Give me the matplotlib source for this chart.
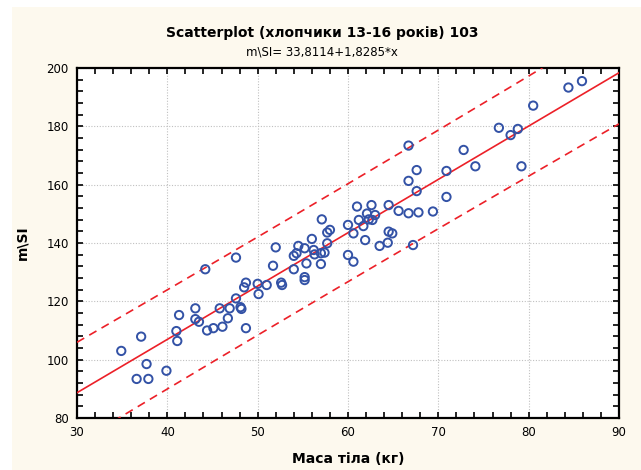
import numpy as np
import matplotlib
matplotlib.use("Agg")
import matplotlib.pyplot as plt
from matplotlib.patches import Rectangle
from matplotlib.ticker import MultipleLocator

plt.rcParams['font.family'] = ['DejaVu Sans']

# Body mass (kg) and m\SI for boys aged 13-16
mass = [34.9, 36.6, 37.9, 37.1, 37.7, 39.9, 41.1, 41.0, 41.3, 43.1,
        43.1, 43.5, 44.4, 45.1, 45.8, 46.1, 46.7, 46.9, 47.6, 48.1,
        48.2, 48.7, 48.5, 48.7, 50.0, 50.1, 51.0, 44.2, 47.6, 52.6,
        52.7, 51.7, 52.0, 54.0, 54.0, 54.3, 54.5, 55.2, 55.2, 55.2,
        55.4, 56.0, 56.2, 56.3, 57.0, 57.0, 57.4, 57.1, 57.7, 57.7,
        58.0, 60.0, 60.6, 60.0, 60.6, 61.0, 61.9, 61.2, 61.7, 62.1,
        62.6, 62.7, 63.0, 63.5, 64.5, 64.4, 64.5, 64.9, 65.6, 66.7,
        67.8, 67.2, 66.7, 67.6, 66.7, 67.6, 69.4, 70.9, 70.9, 72.8,
        74.1, 79.2, 76.7, 78.0, 78.8, 80.5, 84.4, 85.9, 62.3]
msi = [103.0, 93.4, 93.4, 107.9, 98.5, 96.2, 106.4, 109.8, 115.3, 117.6,
       113.9, 113.0, 110.0, 110.8, 117.6, 111.3, 114.2, 117.6, 121.0, 118.0,
       117.4, 110.8, 124.8, 126.4, 126.0, 122.5, 125.6, 131.0, 135.0, 126.4,
       125.6, 132.2, 138.5, 131.0, 135.6, 136.5, 139.0, 138.2, 128.3, 127.3,
       133.0, 141.4, 137.6, 136.1, 136.5, 132.8, 136.7, 148.1, 139.9, 143.6,
       144.5, 146.2, 143.3, 135.9, 133.6, 152.5, 141.0, 147.9, 145.8, 150.1,
       153.0, 147.9, 149.6, 139.0, 153.0, 140.1, 143.9, 143.3, 151.0, 150.2,
       150.5, 139.3, 173.4, 165.0, 161.3, 157.8, 150.8, 164.7, 155.8, 171.9,
       166.3, 166.3, 179.5, 177.0, 179.1, 187.1, 193.3, 195.5, 148.1]

# fitted model: m\SI = intercept + slope * mass
intercept = 33.8114
slope = 1.8285
resid_se = 8.4      # residual standard error of the fit
t_val = 1.987       # t quantile for the 95% prediction band

x_ticks = [30, 40, 50, 60, 70, 80, 90]
y_ticks = [80, 100, 120, 140, 160, 180, 200]

title = "Scatterplot (хлопчики 13-16 років) 103"
subtitle = "m\\SI= 33,8114+1,8285*x"
x_label = "Маса тіла (кг)"
y_label = "m\\SI"

BG = "#fdf9ee"
BLUE = "#3352a6"
RED = "#ec2028"

fig = plt.figure(figsize=(6.41, 4.70), dpi=100)
fig.patch.set_facecolor("white")
fig.patches.append(Rectangle((12 / 641, 0), 1, 1 - 7 / 470,
                             transform=fig.transFigure, facecolor=BG,
                             edgecolor="none", zorder=-10))

ax = fig.add_axes([77 / 641, 52 / 470, 542 / 641, 350 / 470])
ax.set_facecolor("white")

x = np.asarray(mass)
y = np.asarray(msi)

# regression line and 95% prediction band
xs = np.linspace(30, 90, 300)
fit = intercept + slope * xs
n = len(x)
sxx = np.sum((x - x.mean()) ** 2)
half = t_val * resid_se * np.sqrt(1 + 1 / n + (xs - x.mean()) ** 2 / sxx)

ax.plot(xs, fit, color=RED, lw=1.2, zorder=3)
ax.plot(xs, fit + half, color=RED, lw=1.2, ls=(0, (5, 3.5)), zorder=3)
ax.plot(xs, fit - half, color=RED, lw=1.2, ls=(0, (5, 3.5)), zorder=3)

ax.scatter(x, y, s=36, facecolors="none", edgecolors=BLUE, linewidths=1.4,
           zorder=4)

ax.set_xlim(30, 90)
ax.set_ylim(80, 200)
ax.set_xticks(x_ticks)
ax.set_yticks(y_ticks)
ax.set_xticklabels([str(v) for v in x_ticks])
ax.set_yticklabels([str(v) for v in y_ticks])
ax.xaxis.set_minor_locator(MultipleLocator(2))
ax.yaxis.set_minor_locator(MultipleLocator(4))
ax.tick_params(which="both", direction="in", top=True, right=True,
               labelsize=8.5, width=1.2, colors="black")
ax.tick_params(which="major", length=4, pad=6)
ax.tick_params(which="minor", length=4)
ax.grid(True, which="major", color="#c0c0c0", ls=(0, (1, 1.5)), lw=0.8)
for sp in ax.spines.values():
    sp.set_linewidth(1.6)

ax.set_xlabel(x_label, fontsize=10, fontweight="bold", labelpad=9)
ax.set_ylabel(y_label, fontsize=10, fontweight="bold", labelpad=12)

fig.text(322 / 641, 1 - 33 / 470, title, ha="center", va="center",
         fontsize=10, fontweight="bold")
fig.text(322 / 641, 1 - 52 / 470, subtitle, ha="center", va="center",
         fontsize=8.5)

fig.savefig("out.png", dpi=100, facecolor=fig.get_facecolor())
